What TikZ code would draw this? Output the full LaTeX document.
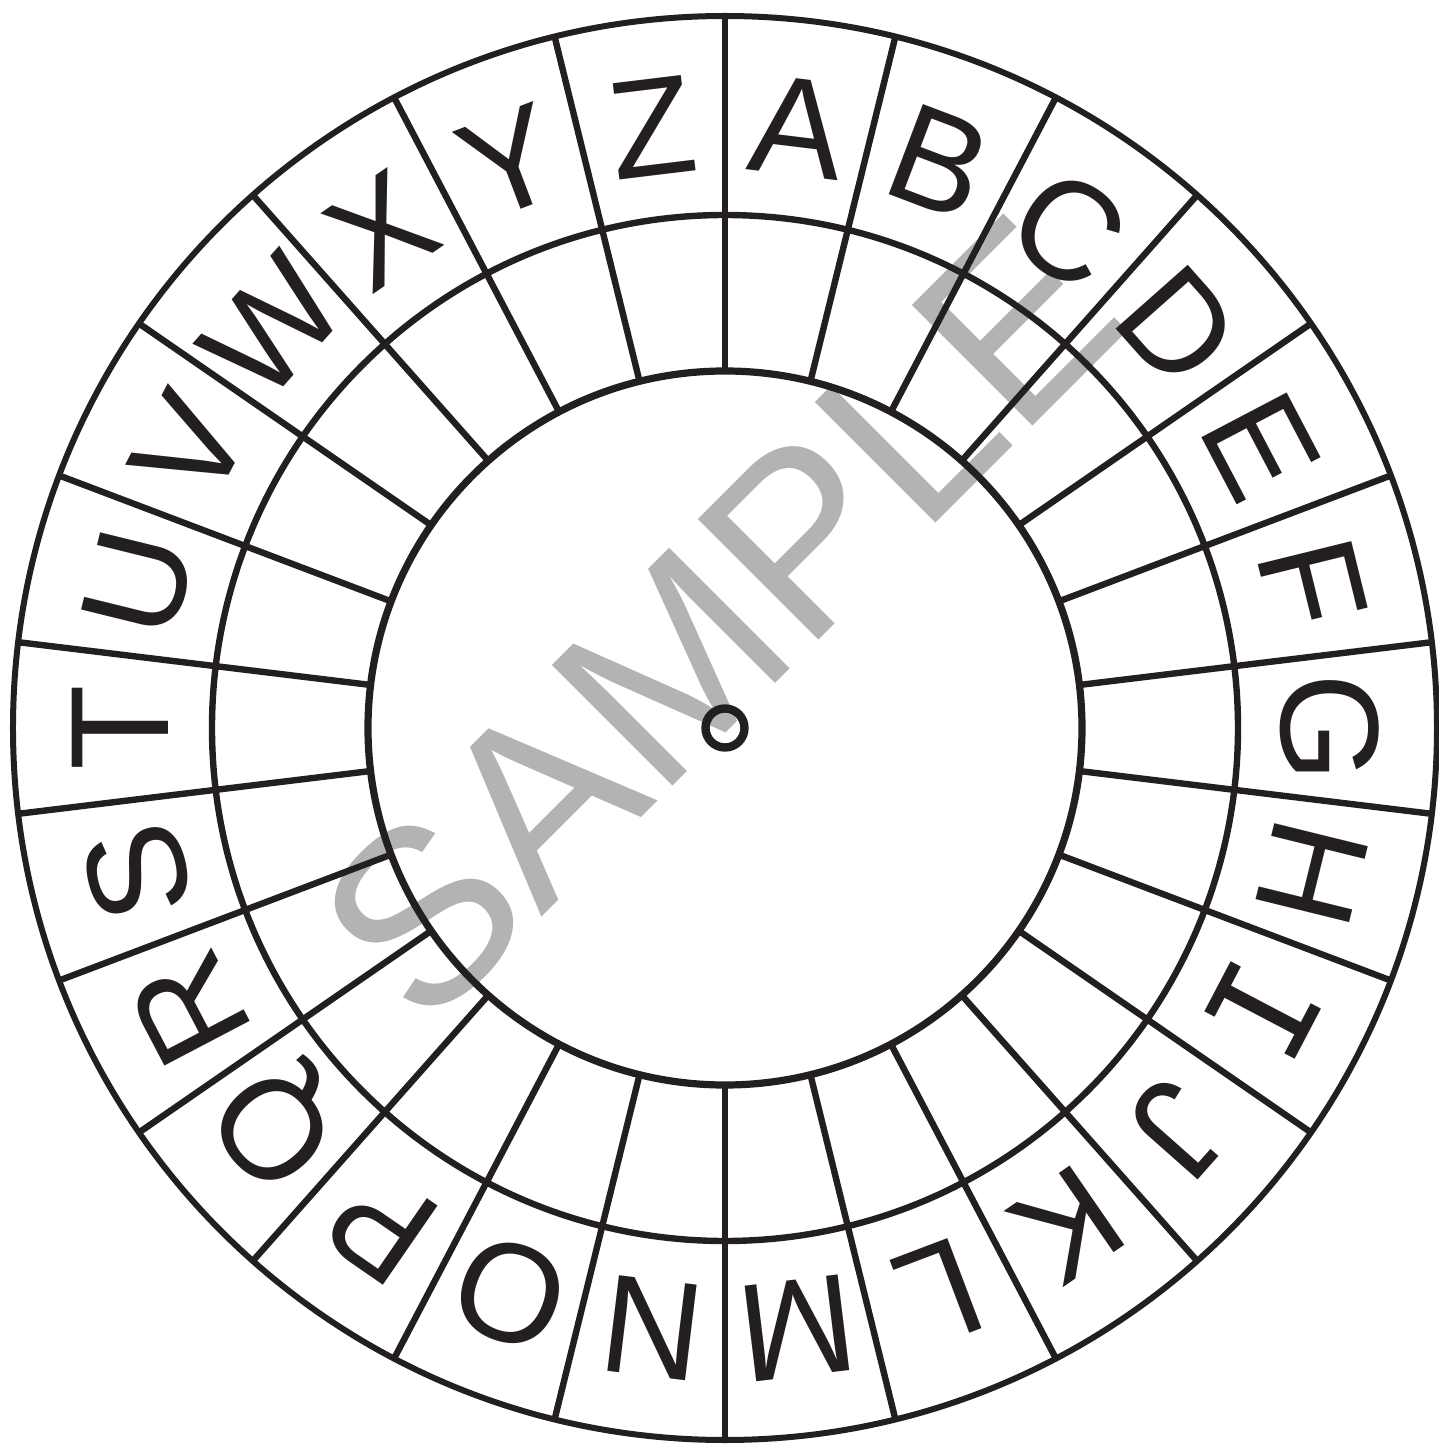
\documentclass[tikz,border=0pt]{standalone}
\usepackage{fontspec}
\setmainfont{Liberation Sans}
\newfontfamily\slabfont{DejaVu Sans Mono}
\definecolor{ink}{HTML}{231F20}
\definecolor{wmgray}{HTML}{B3B3B3}
\begin{document}
\begin{tikzpicture}[x=0.5pt,y=0.5pt,
  letter/.style={font=\fontsize{70}{70}\selectfont, text=ink, inner sep=0pt,
    text height=50.1pt, text depth=0pt, anchor=center},
  watermark/.style={font=\fontsize{124}{124}\selectfont, text=wmgray,
    inner sep=0pt, anchor=base, rotate=45},
  outerring/.style={draw=ink, line width=3.0pt},
  midring/.style={draw=ink, line width=3.2pt},
  innerring/.style={draw=ink, line width=3.6pt},
  divider/.style={draw=ink, line width=3.2pt},
  hubring/.style={draw=ink, line width=4.2pt}]
\useasboundingbox (-725,-718) rectangle (714,728);
% watermark (behind the wheel lines)
\node[watermark] (wm) at (55,49) {SAMPLE};
% rings
\draw[outerring] (0,0) circle (712);
\draw[midring] (0,0) circle (513);
\draw[innerring] (0,0) circle (357);
% dividers
\foreach \k in {0,...,25} {
  \pgfmathsetmacro\dang{90-\k*360/26}
  \coordinate (d\k i) at (\dang:357);
  \coordinate (d\k o) at (\dang:712);
  \draw[divider] (d\k i) -- (d\k o);
}
% letters
\foreach \i/\c in {0/A,1/B,2/C,3/D,4/E,5/F,6/G,7/H,8/{\slabfont I},9/J,10/K,11/L,12/M,
                   13/N,14/O,15/P,16/Q,17/R,18/S,19/T,20/U,21/V,22/W,23/X,24/Y,25/Z} {
  \pgfmathsetmacro\lang{90-(\i+0.5)*360/26}
  \node[letter, rotate=\lang-90] (L\i) at (\lang:607) {\c};
}
% hub
\node[hubring, circle, minimum size=19.5pt, inner sep=0pt] (hub) at (0,0) {};
\end{tikzpicture}
\end{document}
